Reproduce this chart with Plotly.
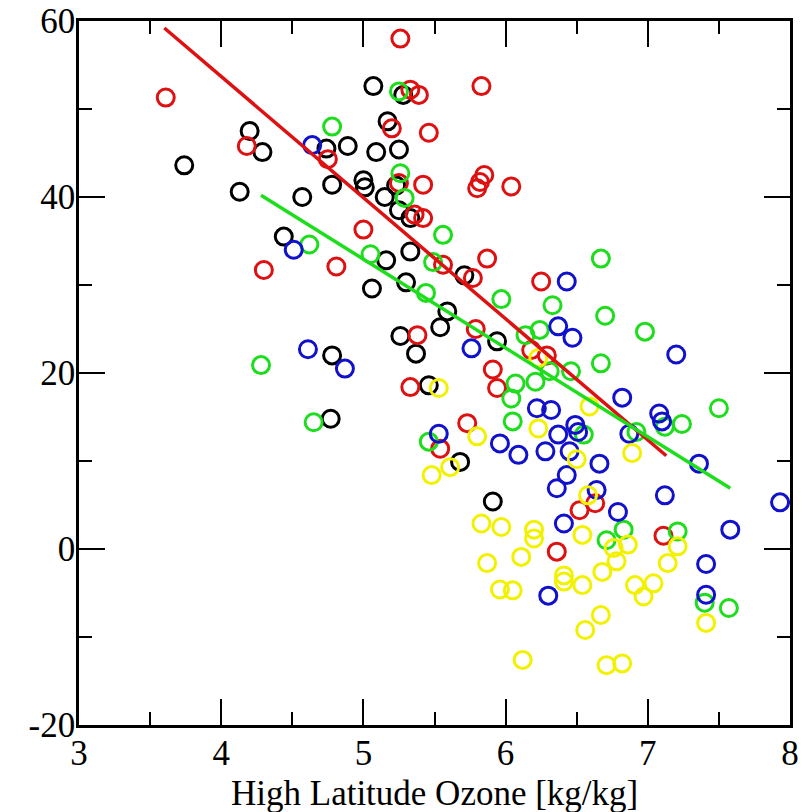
import plotly.graph_objects as go

# ---- data ----
black_x = [4.20, 4.29, 3.74, 4.13, 4.57, 4.44, 5.07, 5.28, 5.17, 4.74, 4.89, 5.09, 5.25, 4.78,
           5.00, 5.01, 5.23, 5.15, 5.25, 5.33, 5.16, 5.33, 5.06, 5.30, 5.59, 5.54, 5.26, 5.37,
           4.78, 5.46, 4.77, 5.71, 5.94, 5.68, 5.91]
black_y = [47.5, 45.1, 43.6, 40.6, 40.0, 35.5, 52.6, 51.6, 48.6, 45.5, 45.8, 45.1, 45.4, 41.4,
           41.9, 41.1, 41.3, 40.0, 38.5, 37.6, 32.8, 33.8, 29.6, 30.3, 27.0, 25.2, 24.2, 22.2,
           22.0, 18.6, 14.8, 31.1, 23.6, 9.9, 5.4]

red_x = [3.61, 4.18, 4.30, 5.26, 5.33, 5.39, 5.83, 5.20, 5.46, 4.75, 5.25, 5.42, 5.85, 5.82,
         5.80, 6.04, 5.36, 5.42, 5.00, 5.56, 5.87, 4.81, 5.38, 5.33, 5.54, 5.77, 6.25, 5.79,
         6.18, 6.29, 5.91, 5.94, 5.73, 6.36, 6.52, 6.63, 7.11]
red_y = [51.3, 45.8, 31.7, 58.0, 52.2, 51.6, 52.6, 47.8, 47.3, 44.3, 41.6, 41.4, 42.5, 41.7,
         41.0, 41.2, 38.0, 37.6, 36.3, 32.3, 33.0, 32.1, 24.3, 18.4, 11.4, 30.8, 30.4, 25.0,
         22.6, 22.0, 20.4, 18.3, 14.3, -0.3, 4.4, 5.2, 1.5]

green_x = [4.62, 5.25, 4.78, 5.26, 5.29, 5.56, 5.05, 5.49, 5.44, 4.28, 4.65, 5.46, 6.67, 5.97,
           6.33, 6.70, 6.98, 6.14, 6.24, 6.67, 6.07, 6.04, 6.21, 6.31, 6.46, 6.05, 6.55, 7.50,
           7.12, 7.24, 6.92, 7.21, 6.83, 6.71, 7.40, 7.57]
green_y = [34.6, 52.0, 48.0, 42.7, 39.9, 35.7, 33.5, 32.6, 29.1, 20.9, 14.4, 12.2, 33.0, 28.4,
           27.7, 26.5, 24.7, 24.3, 24.9, 21.1, 18.8, 17.1, 19.0, 20.2, 20.2, 14.5, 13.0, 16.0,
           13.9, 14.2, 13.3, 2.0, 2.2, 1.0, -6.1, -6.7]

blue_x = [4.64, 4.51, 4.61, 4.87, 5.53, 6.43, 6.37, 6.47, 7.20, 5.76, 6.82, 6.22, 6.32, 7.08,
          7.10, 6.49, 6.51, 6.37, 6.87, 5.96, 6.09, 6.28, 6.45, 6.66, 7.36, 6.43, 6.36, 6.64,
          6.79, 7.12, 7.93, 6.41, 6.30, 7.58, 7.41, 7.41]
blue_y = [45.9, 34.0, 22.7, 20.5, 13.1, 30.4, 25.3, 24.0, 22.1, 22.8, 17.2, 16.0, 15.8, 15.4,
          14.5, 14.1, 13.3, 13.0, 13.1, 12.0, 10.7, 11.1, 11.1, 9.7, 9.7, 8.4, 6.9, 6.7,
          4.2, 6.1, 5.3, 2.9, -5.3, 2.2, -1.7, -5.2]

yellow_x = [5.53, 5.48, 5.61, 6.59, 6.23, 5.80, 6.23, 6.50, 6.89, 5.83, 5.97, 6.20, 6.20, 5.87,
            6.11, 5.96, 6.05, 6.41, 6.41, 6.54, 6.54, 6.56, 6.12, 6.58, 6.76, 6.86, 6.78, 6.68,
            7.14, 7.21, 6.91, 7.04, 6.97, 7.41, 6.67, 6.71, 6.82]
yellow_y = [18.3, 8.4, 9.3, 16.2, 21.7, 12.8, 13.7, 10.2, 10.9, 2.9, 2.5, 2.2, 1.2, -1.6,
            -0.9, -4.6, -4.7, -3.0, -3.7, -4.1, 1.6, -9.2, -12.6, 6.1, 0.1, 0.5, -1.4, -2.6,
            -1.6, 0.3, -4.1, -3.9, -5.4, -8.4, -7.5, -13.2, -13.0]

red_fit_x = [3.60, 7.13]
red_fit_y = [59.2, 10.6]
green_fit_x = [4.28, 7.58]
green_fit_y = [40.2, 6.9]

x_tick_vals = [3, 4, 5, 6, 7, 8]
x_tick_text = ["3", "4", "5", "6", "7", "8"]
y_tick_vals = [-20, 0, 20, 40, 60]
y_tick_text = ["-20", "0", "20", "40", "60"]
x_label = "High Latitude Ozone [kg/kg]"

# ---- styling ----
COLORS = {"black": "#000000", "red": "#dd1111", "green": "#1ddd1d",
          "blue": "#1111cc", "yellow": "#f2f200"}
FONT = "Liberation Serif, Times New Roman, serif"

fig = go.Figure()
series = [("black", black_x, black_y), ("red", red_x, red_y), ("green", green_x, green_y),
          ("blue", blue_x, blue_y), ("yellow", yellow_x, yellow_y)]
for name, xs, ys in series:
    fig.add_trace(go.Scatter(
        x=xs, y=ys, mode="markers", name=name,
        marker=dict(symbol="circle-open", size=17, color=COLORS[name],
                    line=dict(width=3, color=COLORS[name])),
    ))

fig.add_trace(go.Scatter(x=red_fit_x, y=red_fit_y, mode="lines",
                         line=dict(color=COLORS["red"], width=3.5)))
fig.add_trace(go.Scatter(x=green_fit_x, y=green_fit_y, mode="lines",
                         line=dict(color=COLORS["green"], width=3.5)))

axis_common = dict(
    showgrid=False, zeroline=False, showline=True, linecolor="black", linewidth=2.5,
    mirror="allticks", ticks="inside", ticklen=26, tickwidth=2, tickcolor="black",
    tickfont=dict(family=FONT, size=35, color="black"), automargin=False,
)

fig.update_layout(
    width=808, height=812,
    margin=dict(l=79, r=18, t=21, b=87),
    paper_bgcolor="white", plot_bgcolor="white",
    showlegend=False,
    xaxis=dict(range=[3, 8], tickmode="array", tickvals=x_tick_vals, ticktext=x_tick_text,
               minor=dict(ticks="inside", dtick=0.5, tick0=3, ticklen=13, tickwidth=2,
                          tickcolor="black", showgrid=False),
               ticklabelstandoff=-5,
               **axis_common),
    yaxis=dict(range=[-20, 60], tickmode="array", tickvals=y_tick_vals, ticktext=y_tick_text,
               minor=dict(ticks="inside", dtick=10, tick0=-20, ticklen=13, tickwidth=2,
                          tickcolor="black", showgrid=False),
               ticklabelstandoff=-6,
               **axis_common),
    annotations=[dict(text=x_label, xref="paper", yref="paper", x=0.5, y=-0.097,
                      xanchor="center", yanchor="middle", showarrow=False,
                      font=dict(family=FONT, size=35, color="black"))],
)

fig.write_html(
    "out.html",
    config={"displayModeBar": False},
    post_script="document.body.style.margin='0';document.body.style.overflow='hidden';",
)
